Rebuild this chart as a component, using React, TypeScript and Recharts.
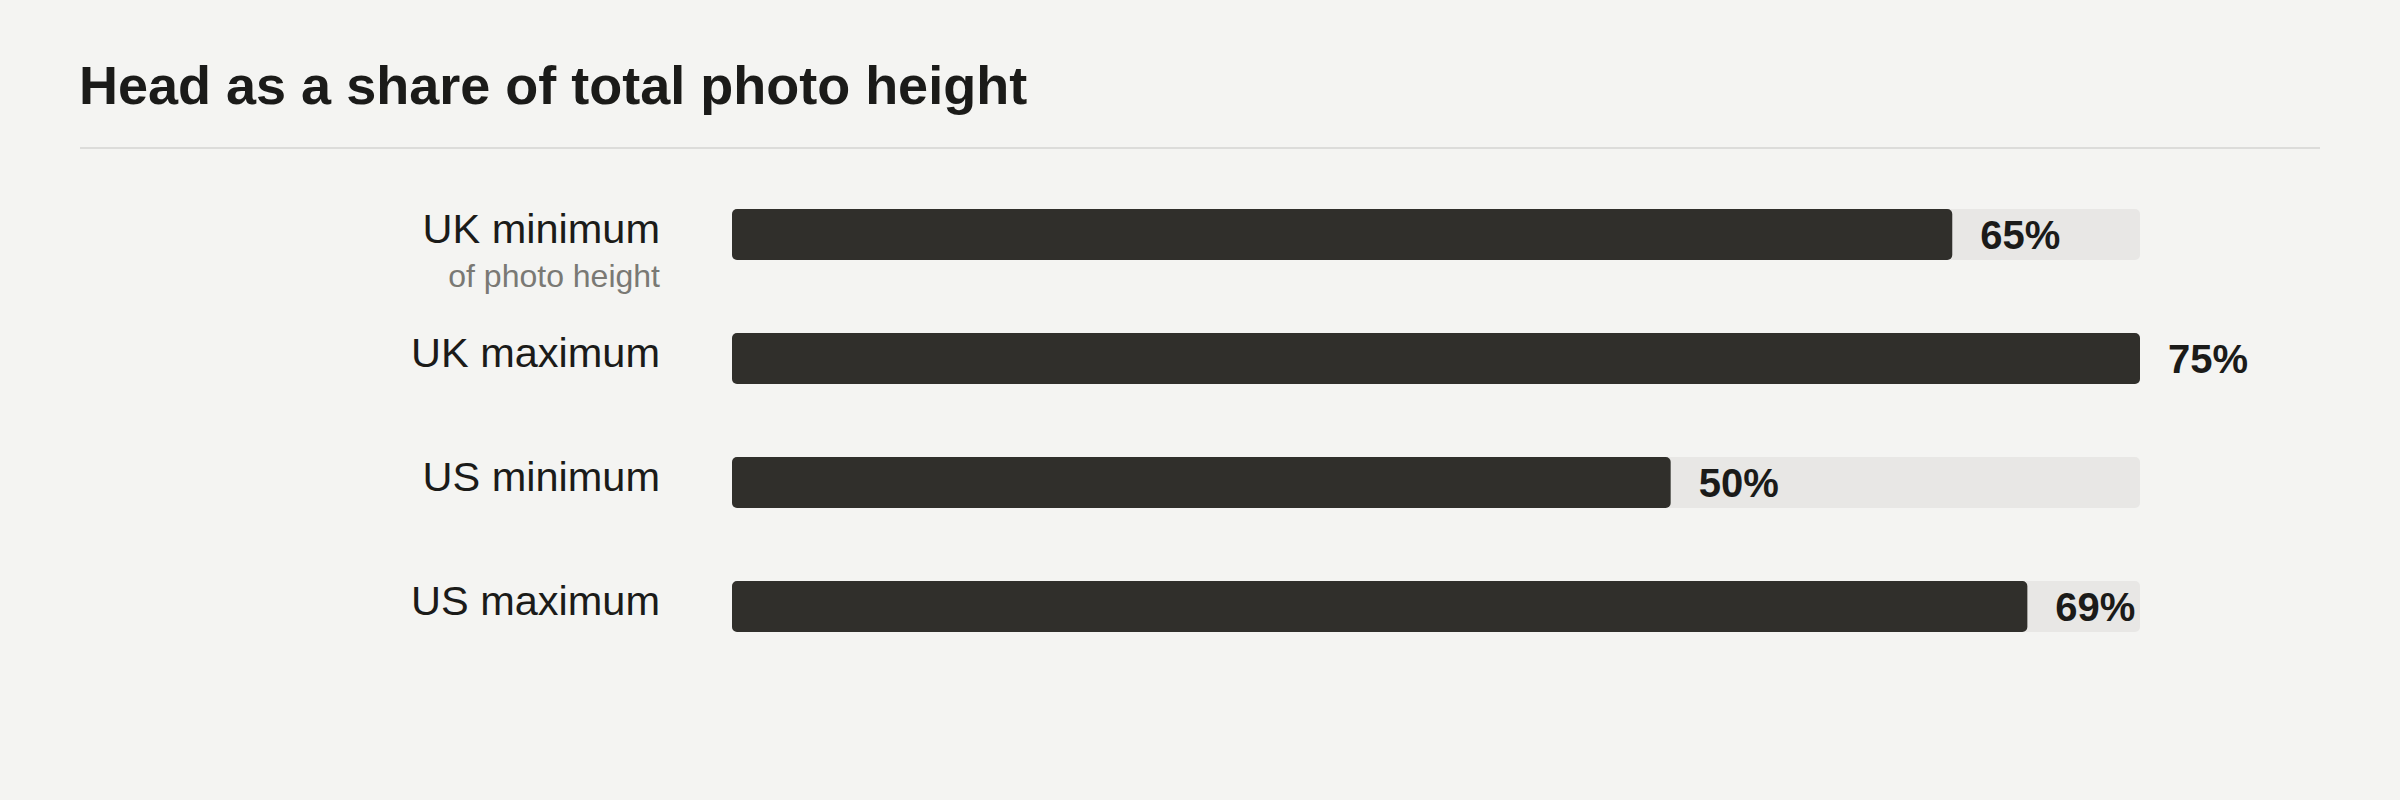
import React from "react";
import { BarChart, Bar, XAxis, YAxis, LabelList } from "recharts";

const categories = ["UK minimum", "UK maximum", "US minimum", "US maximum"];
const values = [65, 75, 50, 69];
const subLabels = ["of photo height", "", "", ""];
const domainMax = 75;
const titleText = "Head as a share of total photo height";

const rows = categories.map((c, i) => ({ label: c, value: values[i], sub: subLabels[i] }));

const FONT = '"Liberation Sans", Arial, Helvetica, sans-serif';

const CategoryTick = (props: any) => {
  const { x, y, payload } = props;
  const idx = payload.index ?? categories.indexOf(payload.value);
  const sub = subLabels[idx];
  return (
    <g>
      <text x={x} y={y + 9} textAnchor="end" fontFamily={FONT} fontSize={41.5} fill="#1b1b19">
        {payload.value}
      </text>
      {sub ? (
        <text x={x} y={y + 53} textAnchor="end" fontFamily={FONT} fontSize={32} fill="#7a7974">
          {sub}
        </text>
      ) : null}
    </g>
  );
};

const ValueLabel = (props: any) => {
  const { x, y, width, height, value } = props;
  return (
    <text
      x={Number(x) + Number(width) + 28}
      y={Number(y) + Number(height) / 2 + 14}
      fontFamily={FONT}
      fontSize={40}
      fontWeight="bold"
      fill="#1b1b19"
    >
      {`${value}%`}
    </text>
  );
};

export default function App() {
  return (
    <div
      style={{
        position: "absolute",
        left: 0,
        top: 0,
        width: 2400,
        height: 800,
        background: "#f4f4f2",
        overflow: "hidden",
      }}
    >
      <svg width={2400} height={170} style={{ position: "absolute", left: 0, top: 0 }}>
        <text x={79} y={104} fontFamily={FONT} fontSize={54} fontWeight="bold" fill="#1b1b19">
          {titleText}
        </text>
        <rect x={80} y={147} width={2240} height={2} fill="#dcdcda" />
      </svg>
      <div style={{ position: "absolute", left: 0, top: 0 }}>
        <BarChart
          width={2400}
          height={800}
          layout="vertical"
          data={rows}
          margin={{ top: 172, right: 260, bottom: 132, left: 0 }}
        >
          <XAxis type="number" domain={[0, domainMax]} hide />
          <YAxis
            type="category"
            dataKey="label"
            width={732}
            tickLine={false}
            axisLine={false}
            tickSize={0}
            tickMargin={72}
            tick={<CategoryTick />}
            interval={0}
          />
          <Bar
            dataKey="value"
            fill="#302f2b"
            barSize={51}
            radius={5}
            background={{ fill: "#e8e7e5", radius: 5 } as any}
            isAnimationActive={false}
          >
            <LabelList dataKey="value" content={<ValueLabel />} />
          </Bar>
        </BarChart>
      </div>
    </div>
  );
}
